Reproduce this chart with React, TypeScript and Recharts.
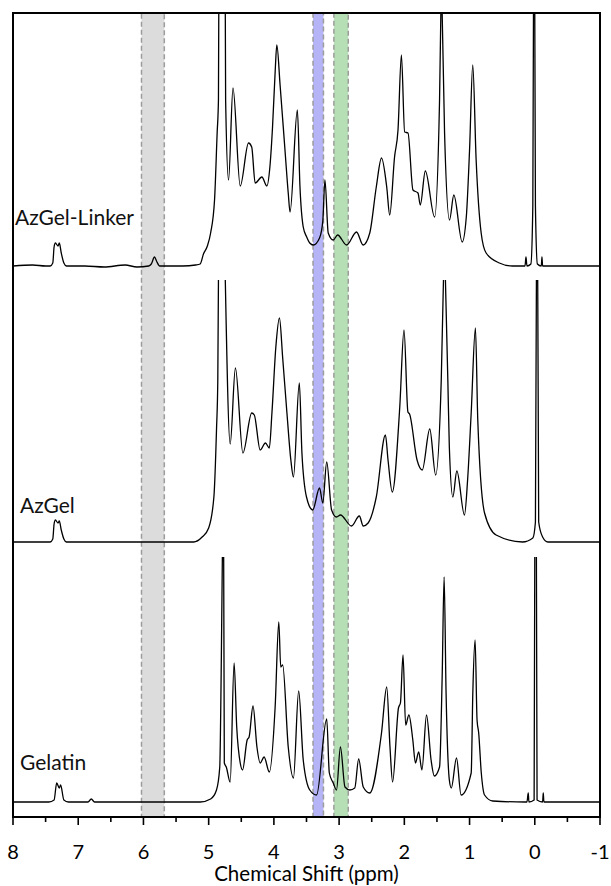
import { LineChart, Line, XAxis, YAxis, ReferenceArea, Label } from 'recharts';

// 1H NMR traces, chemical shift (ppm) vs. intensity above each trace's baseline (a.u.)
// null = peak truncated at the top of its panel
const LINKER_PPM = [
  8.0, 7.7, 7.5, 7.43, 7.39, 7.37, 7.35, 7.31, 7.29, 7.26, 7.22, 7.18, 6.9, 6.6, 6.28, 6.1,
  5.92, 5.88, 5.83, 5.8, 5.75, 5.6, 5.4, 5.2, 5.13, 5.08, 5.02, 4.97, 4.91, 4.87, 4.85, 4.845,
  4.8, 4.745, 4.74, 4.695, 4.627, 4.516, 4.389, 4.34, 4.287, 4.184, 4.108, 4.06, 4.02, 3.98,
  3.955, 3.905, 3.83, 3.78, 3.752, 3.64, 3.6, 3.55, 3.497, 3.45, 3.396, 3.3, 3.25, 3.217, 3.167,
  3.09, 3.023, 2.885, 2.733, 2.632, 2.53, 2.43, 2.35, 2.27, 2.224, 2.15, 2.097, 2.045, 1.995,
  1.944, 1.868, 1.791, 1.755, 1.678, 1.536, 1.46, 1.44, 1.43, 1.42, 1.383, 1.307, 1.241, 1.113,
  1.05, 1.0, 0.951, 0.899, 0.822, 0.746, 0.543, 0.344, 0.15, 0.135, 0.12, 0.06, 0.03, 0.02,
  0.01, 0.0, -0.01, -0.04, -0.1, -0.11, -0.12, -0.5, -1.0,
];
const LINKER_INT = [
  0, 1, 0, 0, 3, 19, 23, 20, 23, 13, 3, 0, 0, -1, 1, -1,
  0, 2, 9, 5, 0, 0, 0, 1, 2, 12, 20, 33, 66, 133, 166, 253,
  null, 253, 166, 86, 178, 80, 123, 119, 83, 89, 80, 100, 140, 195,
  221, 181, 116, 73, 54, 156, 79, 39, 29, 23, 21, 28, 45, 86, 33,
  26, 31, 21, 34, 21, 33, 79, 108, 79, 51, 109, 136, 211, 134,
  133, 76, 73, 61, 95, 49, 166, 253, null, 253, 133, 46, 71, 24,
  49, 116, 201, 106, 33, 13, 3, 0, 0, 9, 0, 2, 60, 253,
  null, 253, 60, 2, 0, 9, 0, 0, 0,
];

const AZGEL_PPM = [
  8.0, 7.6, 7.43, 7.39, 7.37, 7.35, 7.31, 7.29, 7.26, 7.22, 7.18, 6.5, 5.8, 5.23, 5.1, 5.0,
  4.92, 4.88, 4.86, 4.85, 4.8, 4.745, 4.67, 4.59, 4.475, 4.34, 4.3, 4.21, 4.13, 4.07, 4.03,
  3.97, 3.915, 3.865, 3.8, 3.74, 3.7, 3.61, 3.57, 3.5, 3.405, 3.3, 3.25, 3.19, 3.115, 3.04,
  2.98, 2.81, 2.69, 2.63, 2.555, 2.43, 2.29, 2.25, 2.185, 2.07, 2.005, 1.945, 1.92, 1.805,
  1.725, 1.61, 1.52, 1.434, 1.4, 1.385, 1.37, 1.333, 1.31, 1.256, 1.195, 1.078, 1.03, 0.975,
  0.91, 0.874, 0.77, 0.593, 0.187, 0.03, -0.01, -0.025, -0.035, -0.045, -0.06, -0.12, -0.2,
  -1.0,
];
const AZGEL_INT = [
  0, 0, 0, 3, 18, 22, 19, 21, 12, 3, 0, 0, 0, 0, 5, 14,
  45, 112, 162, 262, null, 262, 98, 174, 89, 129, 127, 92, 99, 94, 129,
  195, 224, 184, 129, 82, 65, 159, 89, 45, 32, 54, 39, 80, 32, 25,
  27, 16, 26, 16, 19, 45, 107, 82, 50, 135, 212, 130, 128, 82,
  72, 113, 67, 162, 262, null, 262, 162, 95, 45, 71, 27, 62, 129,
  214, 122, 29, 7, 0, 4, 20, 262, null, 262, 20, 5, 0,
  0,
];

const GELATIN_PPM = [
  8.0, 7.45, 7.37, 7.33, 7.29, 7.27, 7.22, 7.15, 6.85, 6.8, 6.75, 6.2, 5.5, 5.13, 4.97, 4.88,
  4.83, 4.806, 4.79, 4.78, 4.77, 4.76, 4.73, 4.67, 4.61, 4.57, 4.516, 4.48, 4.41, 4.38, 4.32,
  4.26, 4.21, 4.15, 4.07, 3.98, 3.925, 3.895, 3.865, 3.78, 3.7, 3.62, 3.55, 3.45, 3.345, 3.19,
  3.15, 3.09, 3.04, 2.98, 2.91, 2.835, 2.76, 2.7, 2.63, 2.53, 2.35, 2.27, 2.22, 2.18, 2.09,
  2.06, 2.02, 1.98, 1.93, 1.87, 1.83, 1.78, 1.73, 1.66, 1.59, 1.54, 1.46, 1.42, 1.39, 1.36,
  1.31, 1.28, 1.2, 1.13, 0.975, 0.95, 0.915, 0.885, 0.86, 0.82, 0.77, 0.645, 0.15, 0.12, 0.1,
  0.09, 0.01, 0.0, -0.01, -0.025, -0.035, -0.12, -0.13, -0.14, -1.0,
];
const GELATIN_INT = [
  0, 0, 2, 19, 14, 17, 2, 0, 0, 3, 0, 0, 0, 0, 3, 12,
  35, 142, 245, null, 245, 39, 35, 20, 139, 75, 39, 32, 62, 65, 96,
  55, 39, 45, 30, 96, 180, 135, 137, 55, 24, 111, 42, 12, 7, 83,
  29, 19, 12, 55, 15, 12, 14, 43, 15, 9, 69, 115, 55, 20, 94,
  99, 147, 77, 87, 62, 39, 50, 32, 87, 42, 26, 35, 125, 225, 109,
  22, 14, 44, 7, 29, 109, 162, 82, 69, 29, 7, 1, 0, 0, 9,
  0, 2, 245, null, 245, 2, 0, 9, 0, 0,
];

const TRACE_NAMES = ['AzGel-Linker', 'AzGel', 'Gelatin'];

// highlighted shift windows (ppm)
const BAND_FROM = [6.03, 3.4, 3.08];
const BAND_TO = [5.68, 3.24, 2.86];
const BAND_COLORS = ['#dcdcdc', '#b4b4f6', '#b6dfb6'];

const SHIFT_TICKS = [8, 7.5, 7, 6.5, 6, 5.5, 5, 4.5, 4, 3.5, 3, 2.5, 2, 1.5, 1, 0.5, 0, -0.5, -1];

// vertical stacking of the three traces inside a 0..804 intensity window
const Y_MAX = 804;
const OFFSETS = [551, 275, 15];
const LABEL_X = [15, 20, 20];
const LABEL_Y = [225, 513, 770];

const W = 611;
const H = 886;
const FONT = 'Lato, "Open Sans", sans-serif';

const toSeries = (ppm: number[], vals: (number | null)[], offset: number) =>
  ppm.map((p, i) => ({ ppm: p, v: vals[i] === null ? null : (vals[i] as number) + offset }));

const series = [
  toSeries(LINKER_PPM, LINKER_INT, OFFSETS[0]),
  toSeries(AZGEL_PPM, AZGEL_INT, OFFSETS[1]),
  toSeries(GELATIN_PPM, GELATIN_INT, OFFSETS[2]),
];

const ShiftTick = (props: any) => {
  const { x, y, payload } = props;
  const major = Number.isInteger(payload.value);
  return (
    <g>
      <line x1={x} x2={x} y1={y} y2={y + (major ? 8 : 5)} stroke="#000" strokeWidth={1.6} />
      {major && (
        <text x={x} y={y + 42} textAnchor="middle" fontSize={20} fontFamily={FONT} fill="#000">
          {payload.value}
        </text>
      )}
    </g>
  );
};

export default function App() {
  return (
    <div style={{ position: 'absolute', left: 0, top: 0, width: W, height: H, background: '#fff' }}>
      <LineChart width={W} height={H} margin={{ top: 13, right: 11, bottom: 0, left: 13 }}>
        <XAxis
          dataKey="ppm"
          type="number"
          domain={[-1, 8]}
          reversed
          allowDataOverflow
          ticks={SHIFT_TICKS}
          interval={0}
          tick={<ShiftTick />}
          tickLine={false}
          axisLine={false}
          tickSize={0}
          tickMargin={0}
          height={69}
        >
          <Label
            value="Chemical Shift (ppm)"
            position="insideBottom"
            offset={5}
            style={{ fontSize: 20.5, fontFamily: FONT, fill: '#000' }}
          />
        </XAxis>
        <YAxis type="number" domain={[0, Y_MAX]} hide allowDataOverflow />
        {BAND_FROM.map((from, i) => (
          <ReferenceArea
            key={`band-${i}`}
            x1={from}
            x2={BAND_TO[i]}
            y1={0}
            y2={Y_MAX}
            fill={BAND_COLORS[i]}
            fillOpacity={1}
            stroke="#9c9c9c"
            strokeWidth={1.5}
            strokeDasharray="5 3"
            ifOverflow="visible"
            zIndex={-50}
          />
        ))}
        {series.map((data, i) => (
          <Line
            key={TRACE_NAMES[i]}
            data={data}
            dataKey="v"
            name={TRACE_NAMES[i]}
            type="monotoneX"
            stroke="#000"
            strokeWidth={1.3}
            dot={false}
            activeDot={false}
            connectNulls={false}
            isAnimationActive={false}
          />
        ))}
        <ReferenceArea
          x1={8}
          x2={-1}
          y1={0}
          y2={Y_MAX}
          fill="none"
          stroke="#000"
          strokeWidth={2}
          ifOverflow="visible"
          zIndex={900}
        />
      </LineChart>
      <svg
        width={W}
        height={H}
        style={{ position: 'absolute', left: 0, top: 0, pointerEvents: 'none' }}
      >
        {TRACE_NAMES.map((name, i) => (
          <text key={name} x={LABEL_X[i]} y={LABEL_Y[i]} fontSize={21} fontFamily={FONT} fill="#111">
            {name}
          </text>
        ))}
      </svg>
    </div>
  );
}
